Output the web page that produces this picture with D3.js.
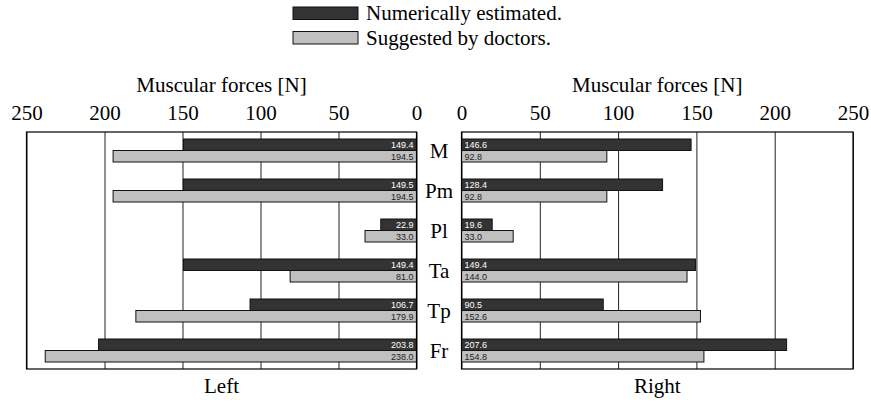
<!DOCTYPE html>
<html>
<head>
<meta charset="utf-8">
<script src="https://cdn.jsdelivr.net/npm/d3@7"></script>
<style>
  body { margin: 0; background: #fff; }
  svg text { font-family: "Liberation Serif", "Times New Roman", serif; }
  .val { font-family: "Liberation Sans", Arial, sans-serif; font-size: 9px; }
</style>
</head>
<body>
<div id="chart"></div>
<script>
// data
var muscles = ["M", "Pm", "Pl", "Ta", "Tp", "Fr"];
var seriesNames = ["Numerically estimated.", "Suggested by doctors."];
var leftEstimated = [149.4, 149.5, 22.9, 149.4, 106.7, 203.8];
var leftDoctors = [194.5, 194.5, 33.0, 81.0, 179.9, 238.0];
var rightEstimated = [146.6, 128.4, 19.6, 149.4, 90.5, 207.6];
var rightDoctors = [92.8, 92.8, 33.0, 144.0, 152.6, 154.8];
var tickValues = [0, 50, 100, 150, 200, 250];
var sideNames = ["Left", "Right"];
var axisTitle = "Muscular forces [N]";

var W = 871, H = 403;
var frameTop = 132, frameBottom = 369;
var colors = ["#333333", "#c0c0c0"];
var fmt = d3.format(".1f");

var svg = d3.select("#chart").append("svg")
    .attr("width", W).attr("height", H);

var y = d3.scaleBand().domain(muscles).range([frameTop, frameBottom])
    .paddingInner(0.425).paddingOuter(0.175);
var ySub = d3.scaleBand().domain([0, 1]).range([0, y.bandwidth()]);

var panels = [
  { name: sideNames[0], est: leftEstimated, doc: leftDoctors,
    x: d3.scaleLinear().domain([0, 250]).range([416.5, 26.5]) },
  { name: sideNames[1], est: rightEstimated, doc: rightDoctors,
    x: d3.scaleLinear().domain([0, 250]).range([461.5, 853]) }
];

panels.forEach(function(p, pi) {
  var g = svg.append("g");
  var x0 = p.x(0), x1 = p.x(250);
  var xl = Math.min(x0, x1), xr = Math.max(x0, x1);

  // axis on top, gridlines going down
  var ax = g.append("g")
      .attr("transform", "translate(0," + frameTop + ")")
      .call(d3.axisTop(p.x).tickValues(tickValues)
              .tickSize(-(frameBottom - frameTop)).tickPadding(12));
  ax.select(".domain").remove();
  ax.selectAll(".tick line").attr("stroke", "#222").attr("stroke-width", 1);
  ax.selectAll(".tick text")
    .attr("font-family", "Liberation Serif, Times New Roman, serif")
    .attr("font-size", 21).attr("fill", "#000");

  g.append("text")
    .attr("x", (xl + xr) / 2).attr("y", 92)
    .attr("text-anchor", "middle").attr("font-size", 21)
    .text(axisTitle);

  g.append("text")
    .attr("x", (xl + xr) / 2).attr("y", 393)
    .attr("text-anchor", "middle").attr("font-size", 21)
    .text(p.name);

  var rows = muscles.map(function(m, i) {
    return { m: m, vals: [p.est[i], p.doc[i]] };
  });

  var grp = g.selectAll(".grp").data(rows).enter().append("g")
      .attr("transform", function(d) { return "translate(0," + y(d.m) + ")"; });

  grp.selectAll("rect").data(function(d) { return d.vals; }).enter().append("rect")
      .attr("x", function(v) { return Math.min(p.x(0), p.x(v)); })
      .attr("y", function(v, j) { return ySub(j); })
      .attr("width", function(v) { return Math.abs(p.x(v) - p.x(0)); })
      .attr("height", ySub.bandwidth())
      .attr("fill", function(v, j) { return colors[j]; })
      .attr("stroke", "#111").attr("stroke-width", 1);

  grp.selectAll(".val").data(function(d) { return d.vals; }).enter().append("text")
      .attr("class", "val")
      .attr("x", pi === 0 ? p.x(0) - 3 : p.x(0) + 3)
      .attr("y", function(v, j) { return ySub(j) + ySub.bandwidth() - 2.5; })
      .attr("text-anchor", pi === 0 ? "end" : "start")
      .attr("fill", function(v, j) { return j === 0 ? "#fff" : "#222"; })
      .text(function(v) { return fmt(v); });

  // frame
  g.append("rect")
    .attr("x", xl).attr("y", frameTop)
    .attr("width", xr - xl).attr("height", frameBottom - frameTop)
    .attr("fill", "none").attr("stroke", "#000").attr("stroke-width", 1.2);
});

// muscle labels between the panels
svg.selectAll(".mlab").data(muscles).enter().append("text")
    .attr("x", 439)
    .attr("y", function(d) { return y(d) + y.bandwidth() / 2 + 7; })
    .attr("text-anchor", "middle").attr("font-size", 21)
    .text(function(d) { return d; });

// legend
var leg = svg.append("g").selectAll("g").data(seriesNames).enter().append("g")
    .attr("transform", function(d, i) { return "translate(293," + (7 + i * 24.5) + ")"; });
leg.append("rect")
    .attr("width", 65).attr("height", 12.5)
    .attr("fill", function(d, i) { return colors[i]; })
    .attr("stroke", "#111").attr("stroke-width", 1);
leg.append("text")
    .attr("x", 73).attr("y", 13)
    .attr("font-size", 21)
    .text(function(d) { return d; });
</script>
</body>
</html>
